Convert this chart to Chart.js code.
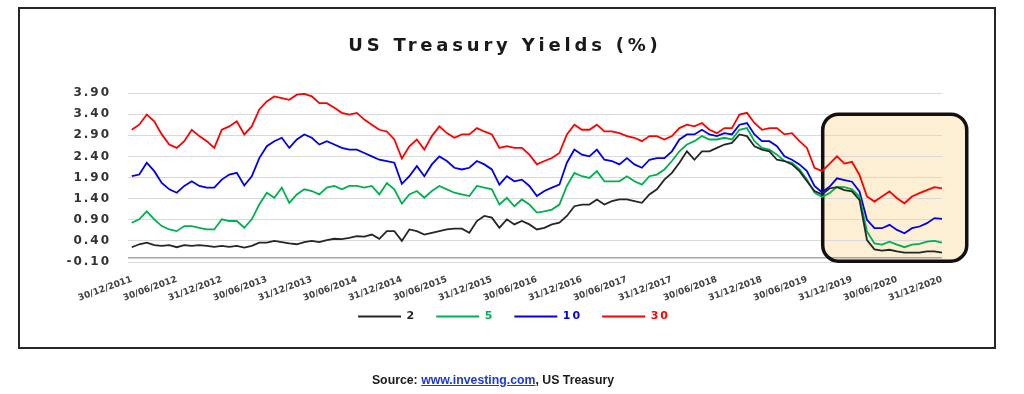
<!DOCTYPE html>
<html lang="en">
<head>
<meta charset="utf-8">
<title>US Treasury Yields (%)</title>
<script src="https://cdn.jsdelivr.net/npm/chart.js@4"></script>
<style>
  body { margin: 0; width: 1024px; height: 394px; background: #fff; position: relative; overflow: hidden; }
  #graficoJuros { position: absolute; left: 0; top: 0; }
  #moldura { position: absolute; left: 18px; top: 7px; width: 978px; height: 342px; box-sizing: border-box; border: 2px solid #262626; pointer-events: none; }
  #titulo { position: absolute; left: 0; top: 34px; width: 1010px; text-align: center; font: bold 18px 'DejaVu Sans', sans-serif; line-height: 21px; letter-spacing: 3.8px; color: #1a1a1a; }
  #fonte { position: absolute; left: 0; top: 373px; width: 986px; text-align: center; font: bold 12.3px 'Liberation Sans', Arial, sans-serif; line-height: 14px; color: #1a1a1a; }
  #fonte a { color: #1d3ad8; text-decoration: underline; }
</style>
</head>
<body>
<canvas id="graficoJuros" width="1024" height="394"></canvas>
<div id="moldura"></div>
<div id="titulo">US Treasury Yields (%)</div>
<div id="fonte">Source: <a>www.investing.com</a>, US Treasury</div>

<script>
// rótulos do eixo X (um a cada 6 meses) e do eixo Y
const rotulosX = ['30/12/2011', '30/06/2012', '31/12/2012', '30/06/2013', '31/12/2013', '30/06/2014',
    '31/12/2014', '30/06/2015', '31/12/2015', '30/06/2016', '31/12/2016', '30/06/2017', '31/12/2017',
    '30/06/2018', '31/12/2018', '30/06/2019', '31/12/2019', '30/06/2020', '31/12/2020'];
const rotulosY = [-0.10, 0.40, 0.90, 1.40, 1.90, 2.40, 2.90, 3.40, 3.90];

// séries mensais (dez/2011 a dez/2020)
const dois = [
    0.25, 0.32, 0.36, 0.30, 0.28, 0.30, 0.25, 0.30, 0.28, 0.30, 0.28, 0.26,
    0.28, 0.26, 0.28, 0.24, 0.28, 0.36, 0.36, 0.40, 0.37, 0.34, 0.32, 0.37,
    0.40, 0.37, 0.42, 0.45, 0.44, 0.47, 0.51, 0.50, 0.55, 0.45, 0.63, 0.63,
    0.40, 0.67, 0.63, 0.55, 0.59, 0.63, 0.67, 0.69, 0.69, 0.59, 0.87, 0.99,
    0.95, 0.71, 0.91, 0.79, 0.87, 0.79, 0.67, 0.71, 0.79, 0.83, 0.99, 1.22,
    1.26, 1.26, 1.38, 1.26, 1.34, 1.38, 1.38, 1.34, 1.30, 1.50, 1.62, 1.85,
    2.01, 2.25, 2.52, 2.32, 2.52, 2.52, 2.60, 2.68, 2.72, 2.92, 2.88, 2.64,
    2.56, 2.52, 2.32, 2.29, 2.21, 2.05, 1.81, 1.58, 1.50, 1.64, 1.67, 1.60,
    1.57, 1.37, 0.42, 0.20, 0.17, 0.19, 0.15, 0.12, 0.12, 0.12, 0.15, 0.15, 0.12
];
const cinco = [
    0.83, 0.91, 1.10, 0.91, 0.75, 0.67, 0.63, 0.75, 0.75, 0.71, 0.67, 0.67,
    0.91, 0.87, 0.87, 0.71, 0.91, 1.26, 1.54, 1.42, 1.66, 1.30, 1.50, 1.62,
    1.58, 1.50, 1.66, 1.70, 1.62, 1.70, 1.70, 1.66, 1.70, 1.50, 1.77, 1.62,
    1.28, 1.50, 1.58, 1.42, 1.58, 1.70, 1.62, 1.54, 1.50, 1.46, 1.70, 1.66,
    1.62, 1.26, 1.42, 1.22, 1.38, 1.26, 1.07, 1.10, 1.14, 1.26, 1.70, 2.01,
    1.93, 1.89, 2.05, 1.81, 1.81, 1.81, 1.93, 1.81, 1.73, 1.93, 1.97, 2.09,
    2.29, 2.52, 2.68, 2.76, 2.88, 2.80, 2.80, 2.84, 2.80, 3.03, 3.07, 2.76,
    2.60, 2.56, 2.44, 2.29, 2.25, 2.09, 1.85, 1.54, 1.44, 1.53, 1.68, 1.67,
    1.62, 1.45, 0.62, 0.34, 0.31, 0.38, 0.31, 0.25, 0.31, 0.33, 0.38, 0.40, 0.36
];
const dez = [
    1.93, 1.97, 2.25, 2.05, 1.77, 1.62, 1.54, 1.70, 1.81, 1.70, 1.66, 1.66,
    1.85, 1.97, 2.01, 1.71, 1.93, 2.36, 2.64, 2.76, 2.84, 2.60, 2.80, 2.92,
    2.84, 2.68, 2.76, 2.68, 2.60, 2.56, 2.56, 2.48, 2.40, 2.32, 2.29, 2.25,
    1.75, 1.93, 2.17, 1.93, 2.21, 2.40, 2.29, 2.13, 2.09, 2.13, 2.29, 2.21,
    2.09, 1.73, 1.93, 1.81, 1.85, 1.70, 1.46, 1.58, 1.66, 1.73, 2.25, 2.56,
    2.44, 2.40, 2.56, 2.32, 2.29, 2.21, 2.36, 2.21, 2.13, 2.32, 2.36, 2.36,
    2.52, 2.80, 2.92, 2.92, 3.03, 2.92, 2.88, 2.95, 2.92, 3.15, 3.19, 2.92,
    2.76, 2.76, 2.64, 2.40, 2.32, 2.21, 2.05, 1.70, 1.55, 1.68, 1.88, 1.84,
    1.80, 1.57, 0.90, 0.70, 0.70, 0.78, 0.66, 0.58, 0.70, 0.74, 0.82, 0.94, 0.92
];
const trinta = [
    3.03, 3.15, 3.39, 3.23, 2.92, 2.68, 2.60, 2.76, 3.03, 2.88, 2.76, 2.60,
    3.03, 3.11, 3.23, 2.92, 3.11, 3.51, 3.70, 3.82, 3.78, 3.74, 3.86, 3.88,
    3.82, 3.66, 3.66, 3.55, 3.43, 3.39, 3.43, 3.27, 3.15, 3.03, 2.99, 2.80,
    2.35, 2.64, 2.80, 2.56, 2.88, 3.11, 2.95, 2.84, 2.92, 2.92, 3.07, 2.99,
    2.92, 2.60, 2.64, 2.60, 2.60, 2.44, 2.21, 2.29, 2.36, 2.48, 2.92, 3.15,
    3.03, 3.03, 3.15, 2.99, 2.99, 2.95, 2.88, 2.84, 2.76, 2.88, 2.88, 2.80,
    2.88, 3.07, 3.15, 3.11, 3.19, 3.03, 2.95, 3.07, 3.07, 3.39, 3.43, 3.19,
    3.03, 3.07, 3.07, 2.92, 2.95, 2.76, 2.60, 2.13, 2.05, 2.22, 2.40, 2.23,
    2.27, 1.96, 1.45, 1.33, 1.45, 1.57, 1.41, 1.29, 1.45, 1.53, 1.60, 1.67, 1.64
];
const nomesSeries = ['2', '5', '10', '30'];
const coresSeries = ['#262626', '#00b050', '#0000ee', '#ff0000'];

let meuGrafico = null;

function pontos(valores) {
    return valores.map((v, i) => ({ x: i, y: v }));
}

// caixa bege de destaque (período da pandemia) + linha do eixo em zero
const caixaDestaque = {
    id: 'caixaDestaque',
    _retangulo(chart) {
        const { x, y } = chart.scales;
        return {
            esq: x.getPixelForValue(92.1), dir: x.getPixelForValue(111.3),
            topo: y.getPixelForValue(3.40), base: y.getPixelForValue(-0.08)
        };
    },
    beforeDraw(chart) {
        const ctx = chart.ctx;
        const r = this._retangulo(chart);
        ctx.save();
        ctx.beginPath();
        ctx.roundRect(r.esq, r.topo, r.dir - r.esq, r.base - r.topo, 16);
        ctx.fillStyle = '#fdefd4';
        ctx.fill();
        ctx.restore();
    },
    beforeDatasetsDraw(chart) {
        const ctx = chart.ctx;
        const { left, right } = chart.chartArea;
        const zero = chart.scales.y.getPixelForValue(0);
        ctx.save();
        ctx.strokeStyle = '#a6a6a6';
        ctx.lineWidth = 1.5;
        ctx.beginPath();
        ctx.moveTo(left, zero);
        ctx.lineTo(right, zero);
        ctx.stroke();

        const r = this._retangulo(chart);
        ctx.beginPath();
        ctx.roundRect(r.esq, r.topo, r.dir - r.esq, r.base - r.topo, 16);
        ctx.strokeStyle = '#111';
        ctx.lineWidth = 3.5;
        ctx.stroke();
        ctx.restore();
    }
};

// texto do gráfico original é bem "espaçado"
function comEspacamento(alvo, metodo, espaco) {
    const original = alvo[metodo];
    alvo[metodo] = function (...args) {
        const ctx = this.ctx;
        const anterior = ctx.letterSpacing;
        ctx.letterSpacing = espaco;
        original.apply(this, args);
        ctx.letterSpacing = anterior;
    };
}

function renderizarGrafico() {
    const ctx = document.getElementById('graficoJuros').getContext('2d');
    const series = [dois, cinco, dez, trinta];

    meuGrafico = new Chart(ctx, {
        type: 'line',
        data: {
            datasets: series.map((valores, i) => ({
                label: nomesSeries[i],
                data: pontos(valores),
                borderColor: coresSeries[i],
                backgroundColor: coresSeries[i],
                borderWidth: 1.8,
                pointRadius: 0,
                tension: 0,
                fill: false
            }))
        },
        options: {
            responsive: false,
            devicePixelRatio: 1,
            animation: false,
            layout: { padding: { top: 93, left: 74, right: 82, bottom: 62 } },
            scales: {
                x: {
                    type: 'linear',
                    min: -0.5,
                    max: 108,
                    afterBuildTicks: (escala) => { escala.ticks = rotulosX.map((_, i) => ({ value: i * 6 })); },
                    afterFit: (escala) => { escala.height = 29; },
                    ticks: {
                        callback: (valor, indice) => rotulosX[indice],
                        autoSkip: false,
                        minRotation: 20,
                        maxRotation: 20,
                        padding: 4,
                        color: '#404040',
                        font: { family: 'DejaVu Sans', size: 9, weight: 'bold' }
                    },
                    grid: { display: false },
                    border: { display: false }
                },
                y: {
                    min: -0.1,
                    max: 3.9,
                    afterBuildTicks: (escala) => { escala.ticks = rotulosY.map(v => ({ value: v })); },
                    afterFit: (escala) => { escala.width = 54; },
                    ticks: {
                        callback: (valor) => valor.toFixed(2),
                        padding: 17,
                        color: '#333',
                        font: { family: 'DejaVu Sans', size: 12, weight: 'bold' }
                    },
                    grid: { color: '#d9d9d9', lineWidth: 1, drawTicks: false },
                    border: { display: false }
                }
            },
            plugins: {
                title: { display: false },
                tooltip: { enabled: false },
                legend: {
                    position: 'bottom',
                    labels: {
                        usePointStyle: true,
                        pointStyle: 'line',
                        pointStyleWidth: 43,
                        padding: 20,
                        font: { family: 'DejaVu Sans', size: 11, weight: 'bold' },
                        generateLabels(chart) {
                            const itens = Chart.defaults.plugins.legend.labels.generateLabels(chart);
                            itens.forEach(item => { item.fontColor = item.strokeStyle; item.pointStyle = 'line'; });
                            return itens;
                        }
                    }
                }
            }
        },
        plugins: [caixaDestaque]
    });

    // rótulos dos eixos sem recorte pela caixa da escala
    meuGrafico.scales.x._computeLabelArea = () => undefined;
    meuGrafico.scales.y._computeLabelArea = () => undefined;
    comEspacamento(meuGrafico.scales.y, 'drawLabels', '2px');
    comEspacamento(meuGrafico.legend, 'draw', '2px');
    meuGrafico.draw();
}

renderizarGrafico();
</script>
</body>
</html>
